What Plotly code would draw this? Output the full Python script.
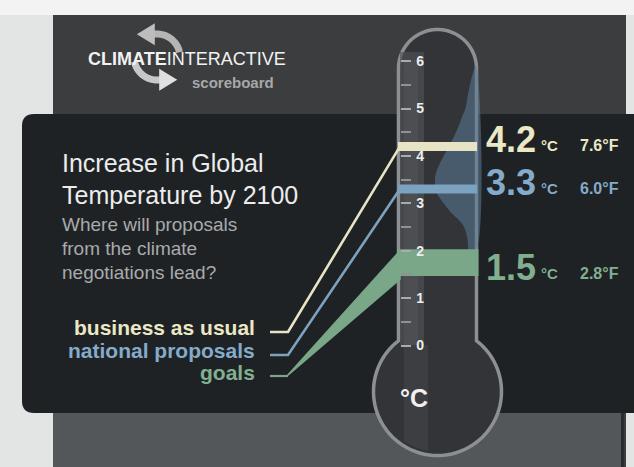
import numpy as np
import plotly.graph_objects as go

W, H = 634, 467

# ---------------- data ----------------
scenarios = ["business as usual", "national proposals", "goals"]
temp_c = [4.2, 3.3, 1.5]          # warming by 2100, deg C
temp_f = [7.6, 6.0, 2.8]          # as printed, deg F
goals_upper_c = 2.0               # goals band upper edge
scale_ticks = [0, 1, 2, 3, 4, 5, 6]
scale_minor = [0.5, 1.5, 2.5, 3.5, 4.5, 5.5]
# shape of the probability band drawn inside the tube
dist_temp = [5.9, 5.45, 5.0, 4.82, 4.55, 4.2, 3.9, 3.63, 3.4, 3.2, 3.07, 2.79, 2.64, 2.46, 2.2, 2.0]
dist_density = [0.0, 0.16, 0.26, 0.34, 0.46, 0.66, 0.85, 0.98, 1.0, 0.95, 0.85, 0.59, 0.41, 0.27, 0.2, 0.17]

# ---------------- styles ----------------
FONT = "Liberation Sans, Arial, sans-serif"
bar_colors = ["#e7e4c6", "#7ba2bf", "#79a787"]
text_colors = ["#ebe8c6", "#84abc9", "#80b08f"]

T0_PX = 345.5     # pixel row of 0 degC
PPD = 47.4        # pixels per degC
y2_range = [-(H - T0_PX) / PPD, T0_PX / PPD]


def t_of_px(py):
    return (T0_PX - py) / PPD


TUBE_L, TUBE_R = 400, 476
LABEL_LINE_Y = [332, 355, 376]
LABEL_TEXT_Y = [327, 350, 372]

fig = go.Figure()

# ---------------- decoration shapes ----------------
shapes = []


def rect(x0, y0, x1, y1, color, opacity=1.0):
    shapes.append(dict(type="rect", xref="x", yref="y", x0=x0, y0=y0, x1=x1, y1=y1,
                       fillcolor=color, line=dict(width=0), layer="below", opacity=opacity))


def poly_path(pts, close=True):
    s = "M " + " L ".join(f"{x:.2f},{y:.2f}" for x, y in pts)
    return s + (" Z" if close else "")


rect(0, 0, W, 15, "#f3f3f3")
rect(53, 15, 626, H, "#3b3d3f")
rect(53, 413, 624, H, "#545759")
rect(621, 413, 624, H, "#2a2b2c")

# black rounded box
r = 12
bx0, by0, bx1, by1 = 22, 114, 640, 413
box = (f"M {bx0 + r},{by0} L {bx1},{by0} L {bx1},{by1} L {bx0 + r},{by1} "
       f"Q {bx0},{by1} {bx0},{by1 - r} L {bx0},{by0 + r} Q {bx0},{by0} {bx0 + r},{by0} Z")
shapes.append(dict(type="path", xref="x", yref="y", path=box, fillcolor="#1f2225",
                   line=dict(width=0), layer="below"))

# thermometer outline
cx, ty, rt = 437.5, 68.5, 39.0
by_c, rb = 391.5, 64.0
xl, xr = cx - rt, cx + rt
dy = np.sqrt(rb ** 2 - rt ** 2)
pts = [(xl, by_c - dy), (xl, ty)]
for th in np.linspace(np.pi, 2 * np.pi, 40):
    pts.append((cx + rt * np.cos(th), ty + rt * np.sin(th)))
pts.append((xr, by_c - dy))
a0 = np.arctan2(-dy, rt)
a1 = np.arctan2(-dy, -rt) + 2 * np.pi
for th in np.linspace(a0, a1, 80):
    pts.append((cx + rb * np.cos(th), by_c + rb * np.sin(th)))
shapes.append(dict(type="path", xref="x", yref="y", path=poly_path(pts), fillcolor="#323437",
                   line=dict(color="#8d9093", width=3.5), layer="below"))
# glass highlight
rect(400, 52, 424, 345, "#505255", 0.65)
rect(404, 60, 418, 345, "#5a5c5f", 0.35)
ri = 60
hl = [(404, 345), (428, 345)]
for x in np.linspace(428, 404, 20):
    hl.append((x, by_c + np.sqrt(ri ** 2 - (x - cx) ** 2)))
shapes.append(dict(type="path", xref="x", yref="y", path=poly_path(hl), fillcolor="#4c4e51",
                   line=dict(width=0), layer="below", opacity=0.4))

# logo arrows
lc, lr = (157, 57), 23
top_arc = [(lc[0] + lr * np.cos(t), lc[1] + lr * np.sin(t)) for t in np.radians(np.linspace(-12, -98, 30))]
bot_arc = [(lc[0] + lr * np.cos(t), lc[1] + lr * np.sin(t)) for t in np.radians(np.linspace(168, 82, 30))]
shapes.append(dict(type="path", xref="x", yref="y", path=poly_path(top_arc, False),
                   line=dict(color="#b5b5b5", width=7), layer="below"))
shapes.append(dict(type="path", xref="x", yref="y", path=poly_path(bot_arc, False),
                   line=dict(color="#c8c8c8", width=7), layer="below"))
hx, hy = top_arc[-1]
shapes.append(dict(type="path", xref="x", yref="y",
                   path=poly_path([(hx + 1, hy - 11), (hx + 1, hy + 11), (hx - 17, hy)]),
                   fillcolor="#bdbdbd", line=dict(width=0), layer="below"))
hx, hy = bot_arc[-1]
shapes.append(dict(type="path", xref="x", yref="y",
                   path=poly_path([(hx - 1, hy - 11), (hx - 1, hy + 11), (hx + 17, hy)]),
                   fillcolor="#e0e0e0", line=dict(width=0), layer="below"))

# ---------------- traces ----------------
DIST_MAX_W = 41
dx_left = [TUBE_R - d * DIST_MAX_W for d in dist_density]
fig.add_trace(go.Scatter(
    x=dx_left + [TUBE_R, TUBE_R], y=dist_temp + [dist_temp[-1], dist_temp[0]],
    xaxis="x", yaxis="y2", mode="lines", fill="toself", line=dict(width=0, shape="spline"),
    fillcolor="rgba(88,120,146,0.58)", hoverinfo="skip", showlegend=False))

# connector lines
for i in range(3):
    ly = t_of_px(LABEL_LINE_Y[i])
    if i < 2:
        fig.add_trace(go.Scatter(x=[270, 288, TUBE_L], y=[ly, ly, temp_c[i]], xaxis="x", yaxis="y2",
                                 mode="lines", line=dict(color=bar_colors[i], width=2.6),
                                 hoverinfo="skip", showlegend=False))
    else:
        fig.add_trace(go.Scatter(x=[270, 288], y=[ly, ly], xaxis="x", yaxis="y2",
                                 mode="lines", line=dict(color=bar_colors[i], width=2.2),
                                 hoverinfo="skip", showlegend=False))
        fig.add_trace(go.Scatter(x=[287, TUBE_L, TUBE_L, 287], y=[ly, goals_upper_c, temp_c[i] - 0.1, ly],
                                 xaxis="x", yaxis="y2", mode="lines", fill="toself",
                                 fillcolor=bar_colors[i], line=dict(color=bar_colors[i], width=1.5),
                                 hoverinfo="skip", showlegend=False))

# bars in the tube
for i in range(2):
    fig.add_trace(go.Scatter(x=[TUBE_L - 2, TUBE_R + 1], y=[temp_c[i], temp_c[i]], xaxis="x", yaxis="y2",
                             mode="lines", line=dict(color=bar_colors[i], width=9),
                             hoverinfo="skip", showlegend=False))
fig.add_trace(go.Scatter(x=[TUBE_L - 3, TUBE_R + 1, TUBE_R + 1, TUBE_L - 3],
                         y=[temp_c[2], temp_c[2], goals_upper_c, goals_upper_c],
                         xaxis="x", yaxis="y2", mode="lines", fill="toself", fillcolor=bar_colors[2],
                         line=dict(color=bar_colors[2], width=3), hoverinfo="skip", showlegend=False))

# ---------------- annotations ----------------
ann = []


def text(x, y, s, size, color, xanchor="left", yref="y", yshift=0, family=FONT):
    ann.append(dict(x=x, y=y, xref="x", yref=yref, text=s, showarrow=False, xanchor=xanchor,
                    yanchor="middle", yshift=yshift, font=dict(family=family, size=size, color=color)))


text(86, 59, "<b>CLIMATE</b>INTERACTIVE", 18, "#f2f2f2")
text(190, 82, "<b>scoreboard</b>", 15, "#a8a8a8")
text(60, 163, "Increase in Global", 25, "#ececec")
text(60, 195, "Temperature by 2100", 25, "#ececec")
for k, line in enumerate(["Where will proposals", "from the climate", "negotiations lead?"]):
    text(60, 224 + 24 * k, line, 19, "#a9aaab")
for i, name in enumerate(scenarios):
    text(257, LABEL_TEXT_Y[i], f"<b>{name}</b>", 21, text_colors[i], xanchor="right")
    text(484, temp_c[i], f"<b>{temp_c[i]:.1f}</b>", 36, text_colors[i], yref="y2", yshift=7)
    text(539, temp_c[i], "<b>°C</b>", 15, text_colors[i], yref="y2", yshift=1)
    text(578, temp_c[i], f"<b>{temp_f[i]:.1f}°F</b>", 16, text_colors[i], yref="y2", yshift=1)
text(398, 398, "<b>°C</b>", 25, "#f0f0f0")

fig.update_layout(
    width=W, height=H, margin=dict(l=0, r=0, t=0, b=0),
    paper_bgcolor="#e3e4e4", plot_bgcolor="rgba(0,0,0,0)",
    shapes=shapes, annotations=ann, showlegend=False,
    xaxis=dict(range=[0, W], visible=False, fixedrange=True),
    yaxis=dict(range=[H, 0], visible=False, fixedrange=True),
    yaxis2=dict(range=y2_range, overlaying="y", anchor="free", position=TUBE_L / W, side="left",
                showgrid=False, zeroline=False, showline=False, fixedrange=True,
                tickmode="array", tickvals=scale_ticks, ticktext=[str(t) for t in scale_ticks],
                ticks="inside", ticklen=10, tickwidth=2, tickcolor="#a9abad",
                ticklabelposition="inside", ticklabelstandoff=5,
                tickfont=dict(family=FONT, size=14, color="#ededed", weight="bold"),
                minor=dict(tickvals=scale_minor, ticks="inside", ticklen=10, tickwidth=2,
                           tickcolor="#8e9092", showgrid=False)),
)

fig.write_html("out.html", config={"displayModeBar": False},
               post_script="document.body.style.margin='0px';document.body.style.padding='0px';")
